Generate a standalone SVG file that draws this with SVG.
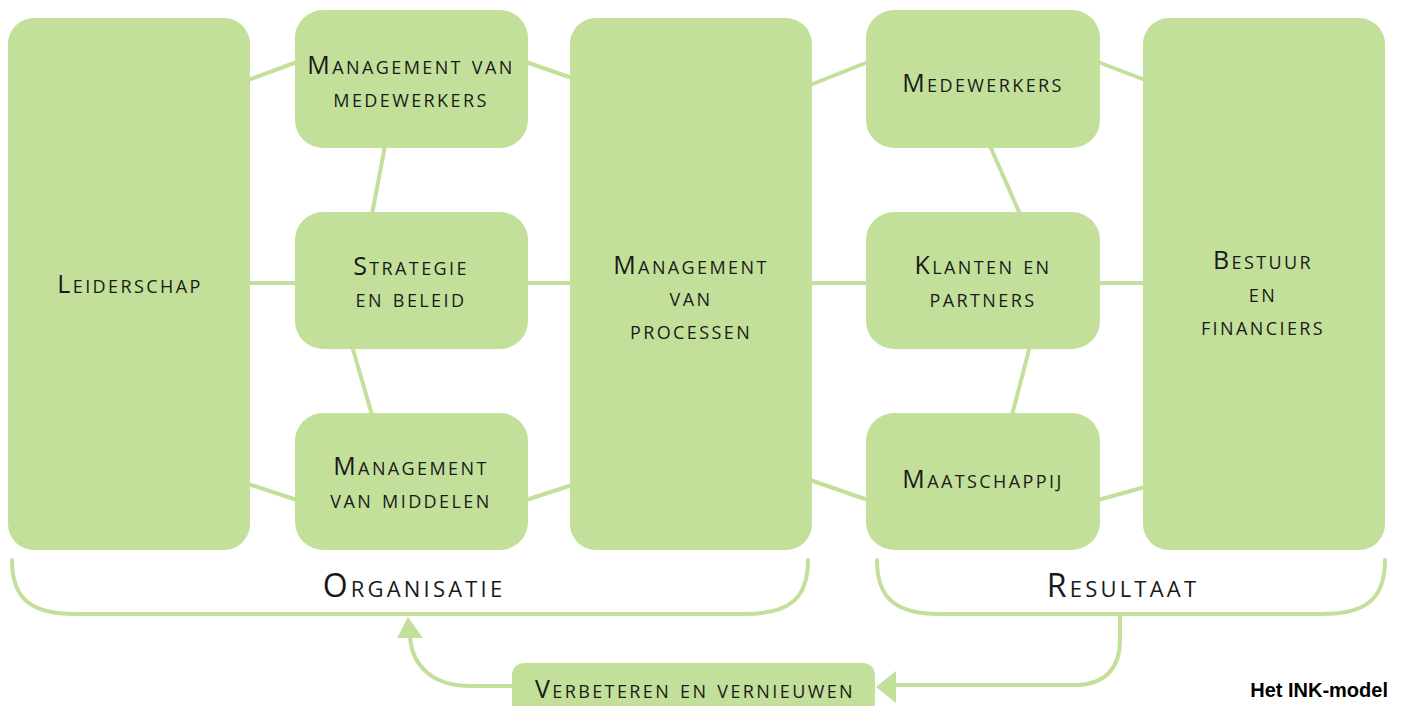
<svg xmlns="http://www.w3.org/2000/svg" width="1403" height="706" viewBox="0 0 1403 706">
<defs>
<style>
.box{fill:#c3e09b;}
.ln{stroke:#c3e09b;stroke-width:4;fill:none;stroke-linecap:round;}
.t{font-family:"Open Sans",Lato,"Liberation Sans",sans-serif;font-variant:small-caps;font-size:25px;letter-spacing:2.4px;fill:#1a1a1a;text-anchor:middle;}
.big{font-size:32px;letter-spacing:3.2px;}
.cap{font-family:"Liberation Sans",Arial,sans-serif;font-weight:bold;font-size:20px;fill:#000;text-anchor:end;}
</style>
</defs>
<rect width="1403" height="706" fill="#ffffff"/>
<g id="connectors">
<line class="ln" x1="248" y1="80" x2="297" y2="62"/>
<line class="ln" x1="526" y1="62" x2="572" y2="78"/>
<line class="ln" x1="385" y1="146" x2="372" y2="214"/>
<line class="ln" x1="352" y1="346" x2="372" y2="415"/>
<line class="ln" x1="248" y1="283" x2="297" y2="283"/>
<line class="ln" x1="526" y1="283" x2="572" y2="283"/>
<line class="ln" x1="248" y1="484" x2="297" y2="500"/>
<line class="ln" x1="526" y1="500" x2="572" y2="485"/>
<line class="ln" x1="810" y1="85" x2="868" y2="62"/>
<line class="ln" x1="1098" y1="62" x2="1145" y2="80"/>
<line class="ln" x1="990" y1="146" x2="1020" y2="214"/>
<line class="ln" x1="1030" y1="346" x2="1012" y2="415"/>
<line class="ln" x1="810" y1="283" x2="868" y2="283"/>
<line class="ln" x1="1098" y1="283" x2="1145" y2="283"/>
<line class="ln" x1="810" y1="480" x2="868" y2="500"/>
<line class="ln" x1="1098" y1="500" x2="1145" y2="487"/>
<path class="ln" d="M12,560 C12,598 30,614 75,614 L745,614 C790,614 808,598 808,560"/>
<path class="ln" d="M877,560 C877,598 895,614 940,614 L1322,614 C1367,614 1385,598 1385,560"/>
<path class="ln" d="M1120,614 L1120,640 C1120,668 1105,685 1075,685 L893,685"/>
<path d="M876,687 L896,671 L896,703 z" fill="#c3e09b"/>
<path class="ln" d="M513,686 L470,686 C432,686 412,665 410,637"/>
<path d="M408,617 L397,638 L423,638 z" fill="#c3e09b"/>
</g>
<g id="leiderschap"><rect class="box" x="8" y="18" width="242" height="532" rx="26"/><text class="t" x="130" y="293">Leiderschap</text></g>
<g id="mgmt-medewerkers"><rect class="box" x="295" y="10" width="233" height="138" rx="28"/><text class="t" x="411" y="74">Management van</text><text class="t" x="411" y="107">medewerkers</text></g>
<g id="strategie"><rect class="box" x="295" y="212" width="233" height="137" rx="28"/><text class="t" x="411" y="275">Strategie</text><text class="t" x="411" y="307">en beleid</text></g>
<g id="mgmt-middelen"><rect class="box" x="295" y="413" width="233" height="137" rx="28"/><text class="t" x="411" y="475">Management</text><text class="t" x="411" y="508">van middelen</text></g>
<g id="mgmt-processen"><rect class="box" x="570" y="18" width="242" height="532" rx="26"/><text class="t" x="691" y="274">Management</text><text class="t" x="691" y="306">van</text><text class="t" x="691" y="339">processen</text></g>
<g id="medewerkers"><rect class="box" x="866" y="10" width="234" height="138" rx="28"/><text class="t" x="983" y="92">Medewerkers</text></g>
<g id="klanten"><rect class="box" x="866" y="212" width="234" height="137" rx="28"/><text class="t" x="983" y="274">Klanten en</text><text class="t" x="983" y="307">partners</text></g>
<g id="maatschappij"><rect class="box" x="866" y="413" width="234" height="137" rx="28"/><text class="t" x="983" y="488">Maatschappij</text></g>
<g id="bestuur"><rect class="box" x="1143" y="18" width="242" height="532" rx="26"/><text class="t" x="1263" y="269">Bestuur</text><text class="t" x="1263" y="302">en</text><text class="t" x="1263" y="335">financiers</text></g>
<g id="organisatie"><text class="t big" x="414" y="597">Organisatie</text></g>
<g id="resultaat"><text class="t big" x="1123" y="597">Resultaat</text></g>
<g id="verbeteren"><rect class="box" x="512" y="663" width="363" height="56" rx="12"/><text class="t" x="695" y="698">Verbeteren en vernieuwen</text></g>
<g id="caption"><text class="cap" x="1388" y="697">Het INK-model</text></g>
</svg>
